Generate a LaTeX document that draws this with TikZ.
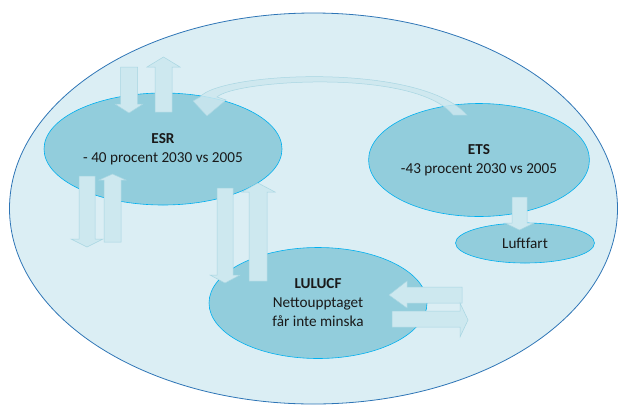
\documentclass[tikz,border=0pt]{standalone}
\usepackage{fontspec}
\setmainfont{Carlito}
\usetikzlibrary{shapes.geometric}
\definecolor{outerfill}{HTML}{DBEEF4}
\definecolor{outerline}{HTML}{2E75B6}
\definecolor{innerfill}{HTML}{92CDDC}
\definecolor{innerline}{HTML}{00B0F0}
\definecolor{arrowfill}{HTML}{CDE8EF}
\definecolor{arrowline}{HTML}{A8D6E2}
\tikzset{
  world/.style={ellipse, draw=outerline, fill=outerfill, line width=0.8pt, inner sep=0pt},
  sector/.style={ellipse, draw=innerline, fill=innerfill, line width=0.6pt, inner sep=0pt, align=center, font=\fontsize{15.2}{19}\selectfont, text=black!90},
  blockarrow/.style={fill=arrowfill, draw=arrowline, line width=0.5pt},
  curvedarrow/.style={fill=arrowfill, fill opacity=0.85, draw=arrowline, line width=0.5pt}
}
\begin{document}
\begin{tikzpicture}[x=1pt,y=-1pt]
\useasboundingbox (0,0) rectangle (618,405);
\node[world, minimum width=608pt, minimum height=391pt] (world) at (313.5,208.5) {};
\node[sector, minimum width=238pt, minimum height=112pt] (esr) at (163,149) {\textbf{ESR}\\- 40 procent 2030 vs 2005};
\node[sector, minimum width=218pt, minimum height=113pt] (ets) at (479,160) {\textbf{ETS}\\-43 procent 2030 vs 2005};
\node[sector, minimum width=139pt, minimum height=40pt] (luft) at (525,243) {Luftfart};
\node[sector, minimum width=218pt, minimum height=111pt] (lulucf) at (318,303) {\textbf{LULUCF}\\Nettoupptaget\\får inte minska};
% ESR top: down and up
\draw[blockarrow] (120.5,67) -- (137.5,67) -- (137.5,104) -- (143,104) -- (129,113) -- (115,104) -- (120.5,104) -- cycle;
\draw[blockarrow] (155,112) -- (172,112) -- (172,67) -- (180,67) -- (163.5,57) -- (147,67) -- (155,67) -- cycle;
% ESR bottom-left: down and up
\draw[blockarrow] (79,176) -- (95,176) -- (95,239) -- (103,239) -- (87,247) -- (71,239) -- (79,239) -- cycle;
\draw[blockarrow] (104,242) -- (121,242) -- (121,180) -- (126,180) -- (112.5,174) -- (99,180) -- (104,180) -- cycle;
% ESR <-> LULUCF
\draw[blockarrow] (217,188) -- (233,188) -- (233,275) -- (240,275) -- (225,283) -- (210,275) -- (217,275) -- cycle;
\draw[blockarrow] (249,281) -- (267,281) -- (267,192) -- (275,192) -- (258,183) -- (242,192) -- (249,192) -- cycle;
% LULUCF <-> right
\draw[blockarrow] (462,287) -- (462,303) -- (407,303) -- (407,308) -- (389,295) -- (407,281) -- (407,287) -- cycle;
\draw[blockarrow] (392,311) -- (460,311) -- (460,303) -- (468,320) -- (460,337) -- (460,327) -- (392,327) -- cycle;
% ETS -> Luftfart
\draw[blockarrow] (512,197) -- (527,197) -- (527,223) -- (534,223) -- (519.5,230) -- (505,223) -- (512,223) -- cycle;
% curved ETS -> ESR
\draw[curvedarrow] (467,115) .. controls (420,62) and (220,72) .. (200,97)
  -- (193,101) -- (207,116) -- (226,100) -- (217,97)
  .. controls (235,80) and (415,68) .. (453,115) -- cycle;
\end{tikzpicture}
\end{document}
